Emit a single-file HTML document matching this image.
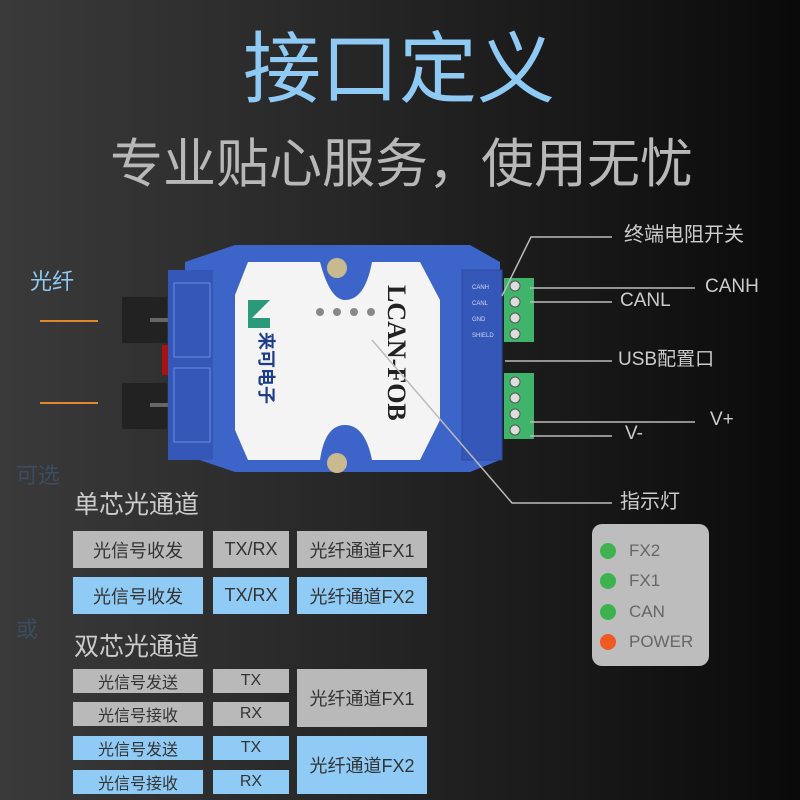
<!DOCTYPE html>
<html><head><meta charset="utf-8"><style>
html,body{margin:0;padding:0}
body{width:800px;height:800px;overflow:hidden;background:linear-gradient(90deg,#3a3a3a 0%,#262626 45%,#0a0a0a 100%);position:relative;font-family:"Liberation Sans","Noto Sans CJK SC",sans-serif}
.t{position:absolute;white-space:nowrap;line-height:1}
.b{position:absolute;display:flex;align-items:center;justify-content:center;color:#333;font-size:18px}
.g{background:#b9b9b9}.bl{background:#8fcbf5}
</style></head><body>
<div class="t" style="left:243px;top:30px;font-size:78px;color:#8ecaf3">接口定义</div>
<div class="t" style="left:110px;top:138px;font-size:53px;color:#b8b8b8">专业贴心服务，使用无忧</div>

<svg style="position:absolute;left:0;top:0" width="800" height="800">
 <!-- fiber connectors -->
 <rect x="122" y="297" width="45" height="46" fill="#222"/>
 <rect x="122" y="383" width="45" height="46" fill="#222"/>
 <rect x="150" y="318" width="20" height="4" fill="#666"/>
 <rect x="150" y="403" width="20" height="4" fill="#666"/>
 <rect x="162" y="345" width="10" height="30" fill="#a11"/>
 <!-- body -->
 <path d="M185 262 L235 245 L470 245 L500 262 L500 460 L470 472 L235 472 L185 455 Z" fill="#3d64c8"/>
 <rect x="168" y="270" width="45" height="190" fill="#3558b8"/>
 <rect x="174" y="283" width="36" height="74" fill="none" stroke="#6d8cdc"/>
 <rect x="174" y="368" width="36" height="74" fill="none" stroke="#6d8cdc"/>
 <rect x="462" y="270" width="40" height="190" fill="#3558b8" stroke="#2a4aa8"/>
 <!-- label -->
 <path d="M248 262 L320 262 Q330 300 345 300 Q365 300 372 262 L420 262 L440 300 L440 420 L420 460 L372 460 Q365 425 345 425 Q325 425 320 460 L248 460 L235 430 L235 295 Z" fill="#f4f4f4"/>
 <circle cx="337" cy="268" r="10" fill="#c9b98f"/>
 <circle cx="337" cy="463" r="10" fill="#c9b98f"/>
 <path d="M248 300 L270 300 L252 318 L270 318 L270 328 L248 328 Z" fill="#2b9a7a"/>
 <text x="0" y="0" transform="translate(260,332) rotate(90)" font-size="18" font-weight="bold" fill="#1c3d8a" font-family="Liberation Sans,Noto Sans CJK SC,sans-serif">来可电子</text>
 <text x="0" y="0" transform="translate(388,285) rotate(90)" font-size="26" font-weight="bold" fill="#222" font-family="Liberation Serif,serif">LCAN-FOB</text>
 <g fill="#888"><circle cx="320" cy="312" r="4"/><circle cx="337" cy="312" r="4"/><circle cx="354" cy="312" r="4"/><circle cx="371" cy="312" r="4"/></g>
 <!-- terminals -->
 <rect x="504" y="278" width="30" height="64" fill="#3fb46a"/>
 <rect x="504" y="373" width="30" height="66" fill="#3fb46a"/>
 <g fill="#ddd" stroke="#555"><circle cx="515" cy="286" r="5"/><circle cx="515" cy="302" r="5"/><circle cx="515" cy="318" r="5"/><circle cx="515" cy="334" r="5"/><circle cx="515" cy="382" r="5"/><circle cx="515" cy="398" r="5"/><circle cx="515" cy="414" r="5"/><circle cx="515" cy="430" r="5"/></g>
 <g font-size="6" fill="#cfd8f5" font-family="Liberation Sans,sans-serif"><text x="472" y="289">CANH</text><text x="472" y="305">CANL</text><text x="472" y="321">GND</text><text x="472" y="337">SHIELD</text></g>
 <!-- leader lines -->
 <g stroke="#bbb" stroke-width="1.5" fill="none">
  <polyline points="502,296 531,237 612,237"/>
  <line x1="530" y1="288" x2="695" y2="288"/>
  <line x1="530" y1="302" x2="612" y2="302"/>
  <line x1="505" y1="361" x2="612" y2="361"/>
  <line x1="530" y1="422" x2="695" y2="422"/>
  <line x1="530" y1="436" x2="612" y2="436"/>
  <polyline points="372,340 512,503 612,503"/>
 </g>
 <line x1="40" y1="321" x2="98" y2="321" stroke="#e0892a" stroke-width="2"/>
 <line x1="40" y1="403" x2="98" y2="403" stroke="#e0892a" stroke-width="2"/>
</svg>

<div class="t" style="left:624px;top:225px;font-size:20px;color:#ccc">终端电阻开关</div>
<div class="t" style="left:705px;top:277px;font-size:19px;color:#ccc">CANH</div>
<div class="t" style="left:620px;top:291px;font-size:19px;color:#ccc">CANL</div>
<div class="t" style="left:618px;top:350px;font-size:19px;color:#ccc">USB配置口</div>
<div class="t" style="left:710px;top:410px;font-size:19px;color:#ccc">V+</div>
<div class="t" style="left:625px;top:424px;font-size:19px;color:#ccc">V-</div>
<div class="t" style="left:620px;top:492px;font-size:20px;color:#ccc">指示灯</div>
<div class="t" style="left:30px;top:271px;font-size:22px;color:#8ecaf3">光纤</div>
<div class="t" style="left:16px;top:465px;font-size:22px;color:#3b4d60">可选</div>
<div class="t" style="left:16px;top:619px;font-size:22px;color:#3b4d60">或</div>

<div class="t" style="left:74px;top:493px;font-size:25px;color:#ccc">单芯光通道</div>
<div class="b g" style="left:73px;top:531px;width:130px;height:37px">光信号收发</div>
<div class="b g" style="left:213px;top:531px;width:76px;height:37px">TX/RX</div>
<div class="b g" style="left:297px;top:531px;width:130px;height:37px">光纤通道FX1</div>
<div class="b bl" style="left:73px;top:577px;width:130px;height:37px">光信号收发</div>
<div class="b bl" style="left:213px;top:577px;width:76px;height:37px">TX/RX</div>
<div class="b bl" style="left:297px;top:577px;width:130px;height:37px">光纤通道FX2</div>

<div class="t" style="left:74px;top:635px;font-size:25px;color:#ccc">双芯光通道</div>
<div class="b g" style="left:73px;top:669px;width:130px;height:24px;font-size:16px">光信号发送</div>
<div class="b g" style="left:213px;top:669px;width:76px;height:24px;font-size:16px">TX</div>
<div class="b g" style="left:73px;top:702px;width:130px;height:24px;font-size:16px">光信号接收</div>
<div class="b g" style="left:213px;top:702px;width:76px;height:24px;font-size:16px">RX</div>
<div class="b g" style="left:297px;top:669px;width:130px;height:58px">光纤通道FX1</div>
<div class="b bl" style="left:73px;top:736px;width:130px;height:24px;font-size:16px">光信号发送</div>
<div class="b bl" style="left:213px;top:736px;width:76px;height:24px;font-size:16px">TX</div>
<div class="b bl" style="left:73px;top:770px;width:130px;height:24px;font-size:16px">光信号接收</div>
<div class="b bl" style="left:213px;top:770px;width:76px;height:24px;font-size:16px">RX</div>
<div class="b bl" style="left:297px;top:736px;width:130px;height:58px">光纤通道FX2</div>

<div style="position:absolute;left:592px;top:524px;width:117px;height:142px;background:#bdbdbd;border-radius:10px"></div>
<div style="position:absolute;left:600px;top:543px;width:16px;height:16px;border-radius:50%;background:#3db24f"></div>
<div style="position:absolute;left:600px;top:573px;width:16px;height:16px;border-radius:50%;background:#3db24f"></div>
<div style="position:absolute;left:600px;top:604px;width:16px;height:16px;border-radius:50%;background:#3db24f"></div>
<div style="position:absolute;left:600px;top:634px;width:16px;height:16px;border-radius:50%;background:#f05a22"></div>
<div class="t" style="left:629px;top:542px;font-size:17px;color:#666">FX2</div>
<div class="t" style="left:629px;top:572px;font-size:17px;color:#666">FX1</div>
<div class="t" style="left:629px;top:603px;font-size:17px;color:#666">CAN</div>
<div class="t" style="left:629px;top:633px;font-size:17px;color:#666">POWER</div>
</body></html>
